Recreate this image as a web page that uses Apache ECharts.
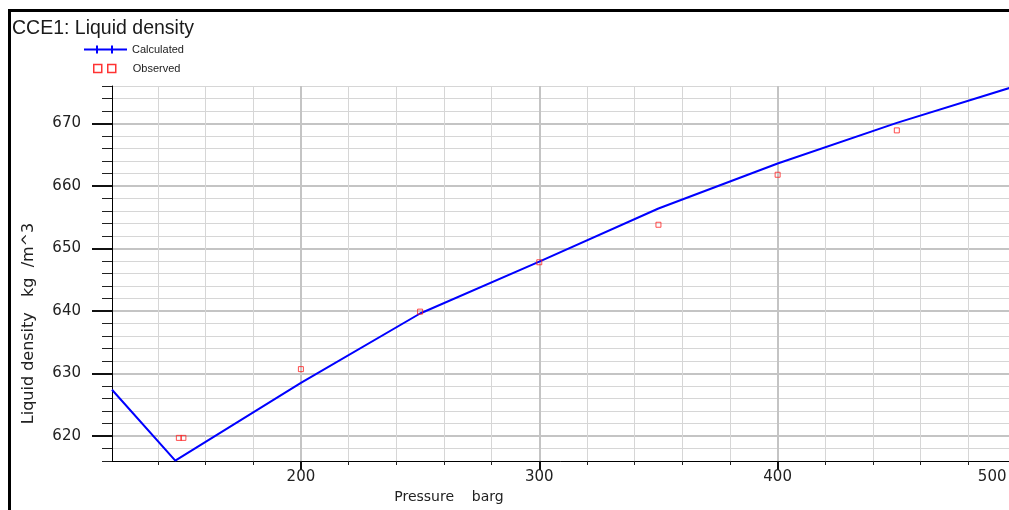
<!DOCTYPE html>
<html>
<head>
<meta charset="utf-8">
<script src="https://cdn.jsdelivr.net/npm/echarts@6/dist/echarts.min.js"></script>
<style>
  html, body { margin: 0; padding: 0; background: #fff; }
  #chart { width: 1009px; height: 510px; }
</style>
</head>
<body>
<div id="chart"></div>
<script>
// calculated curve (pressure barg, density kg/m^3)
var calcPressure = [120.75, 147.3, 200, 250, 300, 350, 400, 450, 500];
var calcDensity  = [627.4, 616.05, 628.5, 639.6, 647.9, 656.4, 663.6, 670.1, 676.0];

// observed points
var obsPressure = [148.8, 150.7, 200, 250, 300, 350, 400, 450];
var obsDensity  = [619.7, 619.7, 630.7, 639.9, 647.8, 653.8, 661.8, 668.9];

// axis ticks
var xMinorTicks = [140, 160, 180, 200, 220, 240, 260, 280, 300, 320, 340, 360, 380, 400, 420, 440, 460, 480, 500];
var xMajorTicks = [200, 300, 400, 500];
var yMinorTicks = [616, 618, 620, 622, 624, 626, 628, 630, 632, 634, 636, 638, 640, 642, 644, 646, 648, 650,
                   652, 654, 656, 658, 660, 662, 664, 666, 668, 670, 672, 674, 676];
var yMajorTicks = [620, 630, 640, 650, 660, 670];

var font = 'DejaVu Sans';

function pairs(xs, ys) {
  var out = [];
  for (var i = 0; i < xs.length; i++) out.push([xs[i], ys[i]]);
  return out;
}

var chart = echarts.init(document.getElementById('chart'));

var option = {
  animation: false,
  backgroundColor: '#fff',
  title: {
    text: 'CCE1: Liquid density',
    left: 12,
    top: 19,
    padding: 0,
    textStyle: { fontFamily: 'Liberation Sans', fontSize: 19.5, fontWeight: 'normal', color: '#1a1a1a' }
  },
  legend: [
    {
      data: ['Calculated'],
      left: 83,
      top: 44,
      padding: 0,
      itemWidth: 43,
      itemHeight: 8,
      icon: 'path://M0,4H43M13,0V8M28,0V8',
      itemStyle: { color: 'rgba(0,0,0,0)', borderColor: '#0000ff', borderWidth: 2 },
      textStyle: { fontFamily: 'Liberation Sans', fontSize: 11, color: '#222' }
    },
    {
      data: [{
        name: 'Observed',
        itemStyle: { color: 'rgba(0,0,0,0)', borderColor: '#ff0000', borderWidth: 1.5 }
      }],
      left: 93,
      top: 63,
      padding: 0,
      itemWidth: 22,
      itemHeight: 8,
      icon: 'path://M0,0H8V8H0ZM14,0H22V8H14Z',
      itemStyle: { color: 'rgba(0,0,0,0)', borderColor: '#ff0000', borderWidth: 1.5 },
      textStyle: { fontFamily: 'Liberation Sans', fontSize: 11, color: '#222', padding: [0, 0, 0, 12] }
    }
  ],
  grid: { left: 112, right: -7, top: 86, bottom: 49, outerBoundsMode: 'none' },
  xAxis: [
    {
      type: 'value', min: 120.75, max: 500, position: 'bottom',
      axisLine: { show: true, lineStyle: { color: '#000', width: 1 } },
      axisTick: { show: true, customValues: xMinorTicks, length: 4, lineStyle: { color: '#222' } },
      axisLabel: { show: false },
      splitLine: { show: true, lineStyle: { color: '#d6d6d6', width: 1 } }
    },
    {
      type: 'value', min: 120.75, max: 500, position: 'bottom',
      name: 'Pressure    barg',
      nameLocation: 'middle',
      nameGap: 28,
      nameTextStyle: { fontFamily: font, fontSize: 14, color: '#222', padding: [0, 230, 0, 0] },
      axisLine: { show: false },
      axisTick: { show: true, customValues: xMajorTicks, length: 9, lineStyle: { color: '#111', width: 2 } },
      axisLabel: {
        customValues: xMajorTicks, margin: 9,
        fontFamily: font, fontSize: 15, color: '#222',
        formatter: function (v) { return v === 500 ? '500  ' : String(v); },
        alignMaxLabel: 'right'
      },
      splitLine: { show: true, lineStyle: { color: '#c4c4c4', width: 2 } }
    }
  ],
  yAxis: [
    {
      type: 'value', min: 616, max: 676, position: 'left',
      axisLine: { show: true, lineStyle: { color: '#000', width: 1 } },
      axisTick: { show: true, customValues: yMinorTicks, length: 10, lineStyle: { color: '#222' } },
      axisLabel: { show: false },
      splitLine: { show: true, lineStyle: { color: '#d6d6d6', width: 1 } }
    },
    {
      type: 'value', min: 616, max: 676, position: 'left',
      name: 'Liquid density   kg  /m^3',
      nameLocation: 'middle',
      nameGap: 75,
      nameTextStyle: { fontFamily: font, fontSize: 16, color: '#222', padding: [0, 100, 0, 0] },
      axisLine: { show: false },
      axisTick: { show: true, customValues: yMajorTicks, length: 20, lineStyle: { color: '#111', width: 2 } },
      axisLabel: { customValues: yMajorTicks, margin: 31, fontFamily: font, fontSize: 15, color: '#222' },
      splitLine: { show: true, lineStyle: { color: '#c4c4c4', width: 2 } }
    }
  ],
  graphic: [
    {
      type: 'rect',
      shape: { x: 9.5, y: 10.5, width: 1100, height: 600 },
      style: { fill: 'none', stroke: '#000', lineWidth: 3 },
      silent: true
    }
  ],
  series: [
    {
      name: 'Calculated',
      type: 'line',
      xAxisIndex: 0, yAxisIndex: 0,
      data: pairs(calcPressure, calcDensity),
      symbol: 'none',
      lineStyle: { color: '#0000ff', width: 2 },
      itemStyle: { color: '#0000ff' },
      z: 3
    },
    {
      name: 'Observed',
      type: 'scatter',
      xAxisIndex: 0, yAxisIndex: 0,
      data: pairs(obsPressure, obsDensity),
      symbol: 'rect',
      symbolSize: 5,
      itemStyle: { color: 'rgba(0,0,0,0)', borderColor: '#ff2020', borderWidth: 1 },
      z: 4
    }
  ]
};

chart.setOption(option);
</script>
</body>
</html>
